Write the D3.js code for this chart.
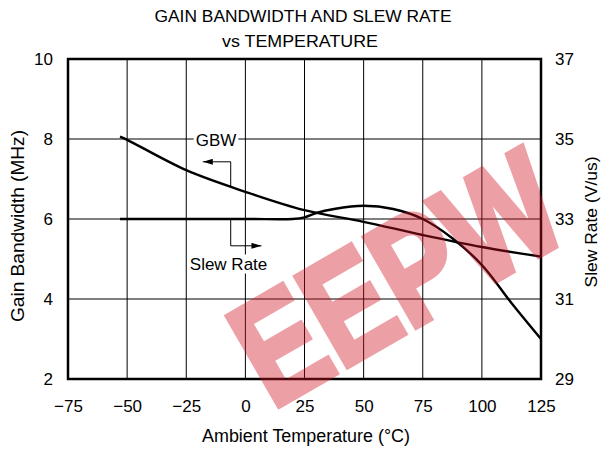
<!DOCTYPE html>
<html>
<head>
<meta charset="utf-8">
<script src="https://cdn.jsdelivr.net/npm/d3@7"></script>
<style>
  body { margin: 0; background: #fff; }
  svg { display: block; font-family: "Liberation Sans", Arial, sans-serif; }
</style>
</head>
<body>
<svg id="chart" width="601" height="450"></svg>
<script>
// data
const gbwTemps = [-53, -50, -25, 0, 25, 50, 75, 100, 125];
const gbwValues = [8.06, 7.98, 7.22, 6.68, 6.22, 5.93, 5.6, 5.3, 5.06];

const slewTemps = [-53, 0, 20, 25, 30, 37.5, 50, 62.5, 75, 87.5, 100, 112.5, 125];
const slewValues = [33, 33, 33, 33.04, 33.15, 33.25, 33.33, 33.25, 33.0, 32.52, 31.85, 30.9, 30.0];

const xTicks = [-75, -50, -25, 0, 25, 50, 75, 100, 125];
const leftTicks = [2, 4, 6, 8, 10];
const rightTicks = [29, 31, 33, 35, 37];

const svg = d3.select('#chart');
const plotL = 68, plotR = 541, plotT = 59, plotB = 379;

const x = d3.scaleLinear().domain([-75, 125]).range([plotL, plotR]);
const yL = d3.scaleLinear().domain([2, 10]).range([plotB, plotT]);
const yR = d3.scaleLinear().domain([29, 37]).range([plotB, plotT]);

// title
svg.append('text').attr('x', 303).attr('y', 22).attr('text-anchor', 'middle')
    .attr('font-size', 16).attr('textLength', 297).attr('lengthAdjust', 'spacingAndGlyphs')
    .text('GAIN BANDWIDTH AND SLEW RATE');
svg.append('text').attr('x', 300).attr('y', 47).attr('text-anchor', 'middle')
    .attr('font-size', 16).attr('textLength', 156).attr('lengthAdjust', 'spacingAndGlyphs')
    .text('vs TEMPERATURE');

// grid
svg.append('g').selectAll('line').data(xTicks.slice(1, -1)).join('line')
    .attr('x1', d => x(d)).attr('x2', d => x(d)).attr('y1', plotT).attr('y2', plotB)
    .attr('stroke', '#000').attr('stroke-width', 1);
svg.append('g').selectAll('line').data(leftTicks.slice(1, -1)).join('line')
    .attr('x1', plotL).attr('x2', plotR).attr('y1', d => yL(d)).attr('y2', d => yL(d))
    .attr('stroke', '#000').attr('stroke-width', 1);

// axes (labels only)
const gx = svg.append('g').attr('transform', `translate(0,${plotB})`)
    .call(d3.axisBottom(x).tickValues(xTicks).tickSize(0).tickPadding(21));
const gl = svg.append('g').attr('transform', `translate(${plotL},0)`)
    .call(d3.axisLeft(yL).tickValues(leftTicks).tickSize(0).tickPadding(15));
const gr = svg.append('g').attr('transform', `translate(${plotR},0)`)
    .call(d3.axisRight(yR).tickValues(rightTicks).tickSize(0).tickPadding(14));
[gx, gl, gr].forEach(g => {
    g.select('.domain').remove();
    g.selectAll('text').attr('font-size', 17).attr('fill', '#000')
        .attr('font-family', '"Liberation Sans", Arial, sans-serif');
});

// axis titles
svg.append('text').attr('transform', 'translate(23.5,226) rotate(-90)').attr('text-anchor', 'middle')
    .attr('font-size', 18).attr('textLength', 192).attr('lengthAdjust', 'spacingAndGlyphs')
    .text('Gain Bandwidth (MHz)');
svg.append('text').attr('transform', 'translate(597,222) rotate(-90)').attr('text-anchor', 'middle')
    .attr('font-size', 17).attr('textLength', 131).attr('lengthAdjust', 'spacingAndGlyphs')
    .text('Slew Rate (V/us)');
svg.append('text').attr('x', 306).attr('y', 442).attr('text-anchor', 'middle')
    .attr('font-size', 17.5).attr('textLength', 208).attr('lengthAdjust', 'spacingAndGlyphs')
    .text('Ambient Temperature (°C)');

// curves
const gbwLine = d3.line().x(d => x(d[0])).y(d => yL(d[1])).curve(d3.curveCatmullRom.alpha(0.5));
const slewLine = d3.line().x(d => x(d[0])).y(d => yR(d[1])).curve(d3.curveCatmullRom.alpha(0.5));
svg.append('path').attr('d', gbwLine(d3.zip(gbwTemps, gbwValues)))
    .attr('fill', 'none').attr('stroke', '#000').attr('stroke-width', 2.4);
svg.append('path').attr('d', slewLine(d3.zip(slewTemps, slewValues)))
    .attr('fill', 'none').attr('stroke', '#000').attr('stroke-width', 2.4);

// labels with white backing
function label(txt, tx, ty) {
    const g = svg.append('g');
    const t = g.append('text').attr('x', tx).attr('y', ty).attr('font-size', 17).text(txt);
    const b = t.node().getBBox();
    g.insert('rect', 'text').attr('x', b.x - 2).attr('y', b.y).attr('width', b.width + 4)
        .attr('height', b.height).attr('fill', '#fff');
}
label('GBW', x(-21), 146);
label('Slew Rate', x(-23.5), 269.5);

// arrows
svg.append('defs').append('marker').attr('id', 'ah').attr('viewBox', '0 0 10 6')
    .attr('refX', 10).attr('refY', 3).attr('markerWidth', 10).attr('markerHeight', 6)
    .attr('markerUnits', 'userSpaceOnUse').attr('orient', 'auto')
    .append('path').attr('d', 'M0,0L10,3L0,6Z').attr('fill', '#000');
svg.append('path')
    .attr('d', d3.line()([[x(-6.2), yL(6.8)], [x(-6.2), yL(7.43)], [x(-18), yL(7.43)]]))
    .attr('fill', 'none').attr('stroke', '#000').attr('stroke-width', 1).attr('marker-end', 'url(#ah)');
svg.append('path')
    .attr('d', d3.line()([[x(-6.2), yR(33)], [x(-6.2), yR(32.33)], [x(6.8), yR(32.33)]]))
    .attr('fill', 'none').attr('stroke', '#000').attr('stroke-width', 1).attr('marker-end', 'url(#ah)');

// frame
svg.append('rect').attr('x', plotL).attr('y', plotT).attr('width', plotR - plotL).attr('height', plotB - plotT)
    .attr('fill', 'none').attr('stroke', '#000').attr('stroke-width', 2.5);

// watermark
svg.append('g').attr('opacity', 0.4)
  .append('text').attr('transform', 'translate(272,410) rotate(-30) scale(0.79,1)')
    .attr('font-size', 150).attr('font-weight', 'bold')
    .attr('fill', 'rgb(210,20,35)').attr('stroke', 'rgb(210,20,35)')
    .attr('stroke-width', 6).attr('stroke-linejoin', 'miter')
    .text('EEPW');
</script>
</body>
</html>
